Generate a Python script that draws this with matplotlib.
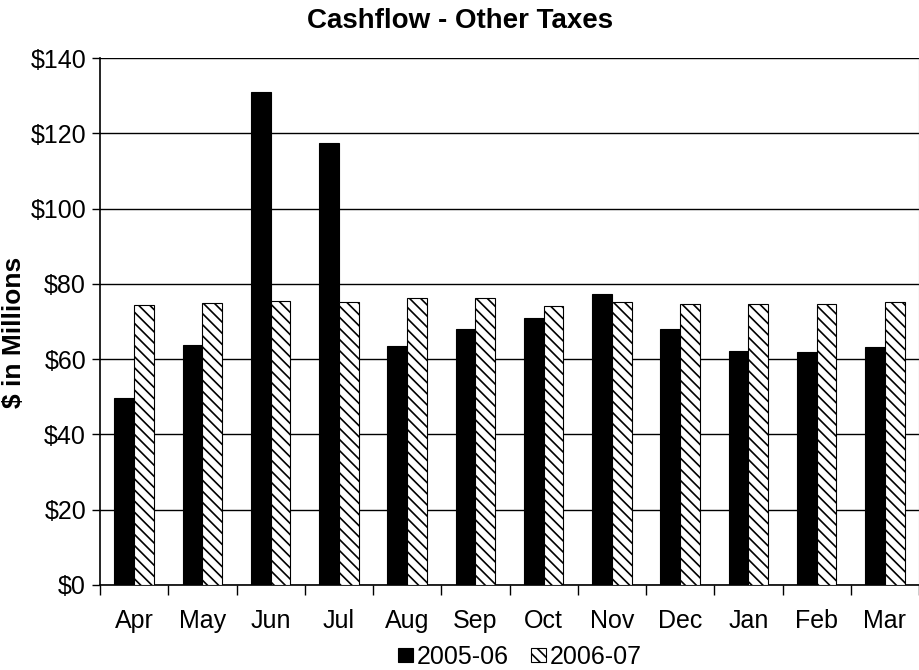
import matplotlib.pyplot as plt
import numpy as np

# monthly other-tax cashflow, $ millions
months = ['Apr', 'May', 'Jun', 'Jul', 'Aug', 'Sep', 'Oct', 'Nov', 'Dec', 'Jan', 'Feb', 'Mar']
fy0506 = [49.7, 63.8, 131.1, 117.5, 63.5, 67.9, 70.8, 77.2, 68.0, 62.2, 62.0, 63.1]
fy0607 = [74.4, 74.9, 75.5, 75.1, 76.3, 76.3, 74.2, 75.1, 74.7, 74.7, 74.7, 75.1]

plt.rcParams['font.family'] = ['Liberation Sans', 'DejaVu Sans']
plt.rcParams['hatch.linewidth'] = 1.2

fig = plt.figure(figsize=(9.2, 6.7), dpi=100)
ax = fig.add_axes([100 / 920, 85 / 670, 819 / 920, 527 / 670])

x = np.arange(len(months))
w = 0.29
ax.bar(x - w / 2, fy0506, w, color='black', edgecolor='black', linewidth=0.8,
       label='2005-06', zorder=3)
ax.bar(x + w / 2, fy0607, w, color='white', edgecolor='black', linewidth=0.8,
       hatch='\\\\\\', label='2006-07', zorder=3)

ax.set_xlim(-0.5, len(months) - 0.5)
ax.set_ylim(0, 140)
ax.set_yticks(np.arange(0, 141, 20))
ax.set_yticklabels(['$%d' % v for v in range(0, 141, 20)], fontsize=18)
ax.yaxis.grid(True, color='black', linewidth=1.0, zorder=0)
ax.tick_params(axis='y', direction='out', length=6, width=1, pad=4)

ax.set_xticks(x)
ax.set_xticklabels(months, fontsize=18)
ax.set_xticks(np.arange(-0.5, len(months), 1), minor=True)
ax.tick_params(axis='x', which='major', length=0, pad=17)
ax.tick_params(axis='x', which='minor', direction='out', length=7, width=1)

ax.spines['top'].set_visible(False)
ax.spines['right'].set_color('#888888')
ax.spines['left'].set_linewidth(1.2)
ax.spines['bottom'].set_linewidth(1.2)

fig.text(14 / 920, 1 - 332 / 670, '$ in Millions', fontsize=19, fontweight='bold',
         rotation=90, ha='center', va='center')
fig.text(460 / 920, 1 - 21 / 670, 'Cashflow - Other Taxes', fontsize=20,
         fontweight='bold', ha='center', va='center')

fig.legend(loc='center', bbox_to_anchor=(520 / 920, 1 - 657 / 670), ncol=2, frameon=False,
           fontsize=18, handlelength=0.6, handleheight=0.5, handletextpad=0.15,
           columnspacing=0.9, borderpad=0)

fig.savefig('out.png', dpi=100)
